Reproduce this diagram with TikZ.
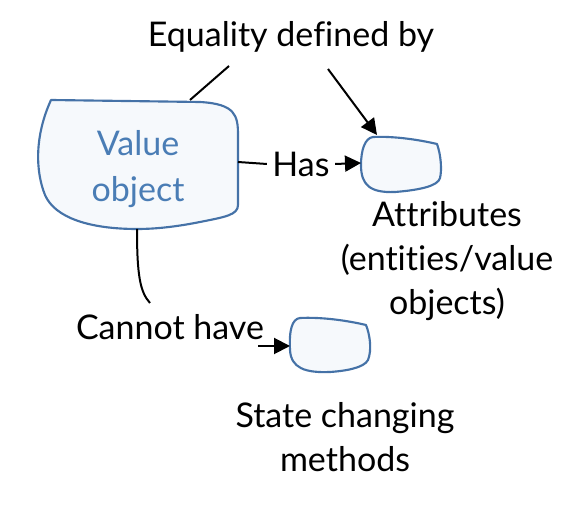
\documentclass[tikz,border=0pt]{standalone}
\usepackage{fontspec}
\setmainfont{Lato}[Ligatures=NoCommon]
\usetikzlibrary{arrows.meta, positioning, calc}

\definecolor{blobline}{HTML}{4572A7}
\definecolor{blobfill}{HTML}{F6F9FC}
\definecolor{blobtext}{HTML}{4A7DB5}

\tikzset{
	blob/.style = {draw=blobline, fill=blobfill, line width=1.6pt, line join=round},
	label/.style = {font=\fontsize{25.5}{33}\selectfont, align=center, inner sep=4pt},
	link/.style = {line width=1.5pt}
}

\begin{document}
\begin{tikzpicture}[
			x = 0.75pt,
			y = -0.75pt,
			> = {Triangle[length=12pt, width=12pt]}
			]
			
			\useasboundingbox (0,0) rectangle (572,505);
			
			% Define blobs
			\draw[blob] (51,100) -- (200,102) .. controls (235,104) and (238,115) .. (238,135)
				-- (238,205) .. controls (238,215) and (225,217) .. (200,222)
				.. controls (170,228) and (150,229) .. (137,229)
				.. controls (90,229) and (55,218) .. (45,195)
				.. controls (35,170) and (35,135) .. (51,100) -- cycle;
			\draw[blob] (373,137) .. controls (395,136) and (420,140) .. (437,144)
				.. controls (441,155) and (442,170) .. (440,178)
				.. controls (438,186) and (420,190) .. (395,192)
				.. controls (370,193) and (361,185) .. (361,165)
				.. controls (361,150) and (365,138) .. (373,137) -- cycle;
			\draw[blob] (300,318) .. controls (320,317) and (345,320) .. (366,325)
				.. controls (370,335) and (372,350) .. (368,360)
				.. controls (364,368) and (345,371) .. (330,372)
				.. controls (305,373) and (291,368) .. (290,350)
				.. controls (289,330) and (292,319) .. (300,318) -- cycle;
			
			% Define nodes
			\node[label, text=blobtext, font=\fontsize{25.5}{34.5}\selectfont] (value) at (138,169) {Value\\object};
			\node[label] (equality) at (291,37) {Equality defined by};
			\node[label] (has) at (301,164) {Has};
			\node[label] (attrtext) at (447,261) {Attributes\\(entities/value\\objects)};
			\node[label] (cannot) at (170,327) {Cannot have};
			\node[label] (statetext) at (345,437) {State changing\\methods};
			
			% Define anchor points
			\coordinate (valuetop) at (190,100);
			\coordinate (valueright) at (238,162);
			\coordinate (valuebottom) at (137,229);
			\coordinate (attrtop) at (377,135);
			\coordinate (attrleft) at (361,163);
			\coordinate (stateleft) at (290,346);
			\coordinate (eqleft) at (229,66);
			\coordinate (eqright) at (328,69);
			\coordinate (cannotend) at (150,303);
			\coordinate (cannotout) at (258,346);
			
			% Define connectors
			\draw[link] (valuetop) -- (eqleft);
			\draw[link, ->] (eqright) -- (attrtop);
			\draw[link] (valueright) -- (has.west);
			\draw[link, ->] (has.east) -- (attrleft);
			\draw[link] (valuebottom) .. controls (137,275) and (140,292) .. (cannotend);
			\draw[link, ->] (cannotout) -- (stateleft);
			
		\end{tikzpicture}
\end{document}
